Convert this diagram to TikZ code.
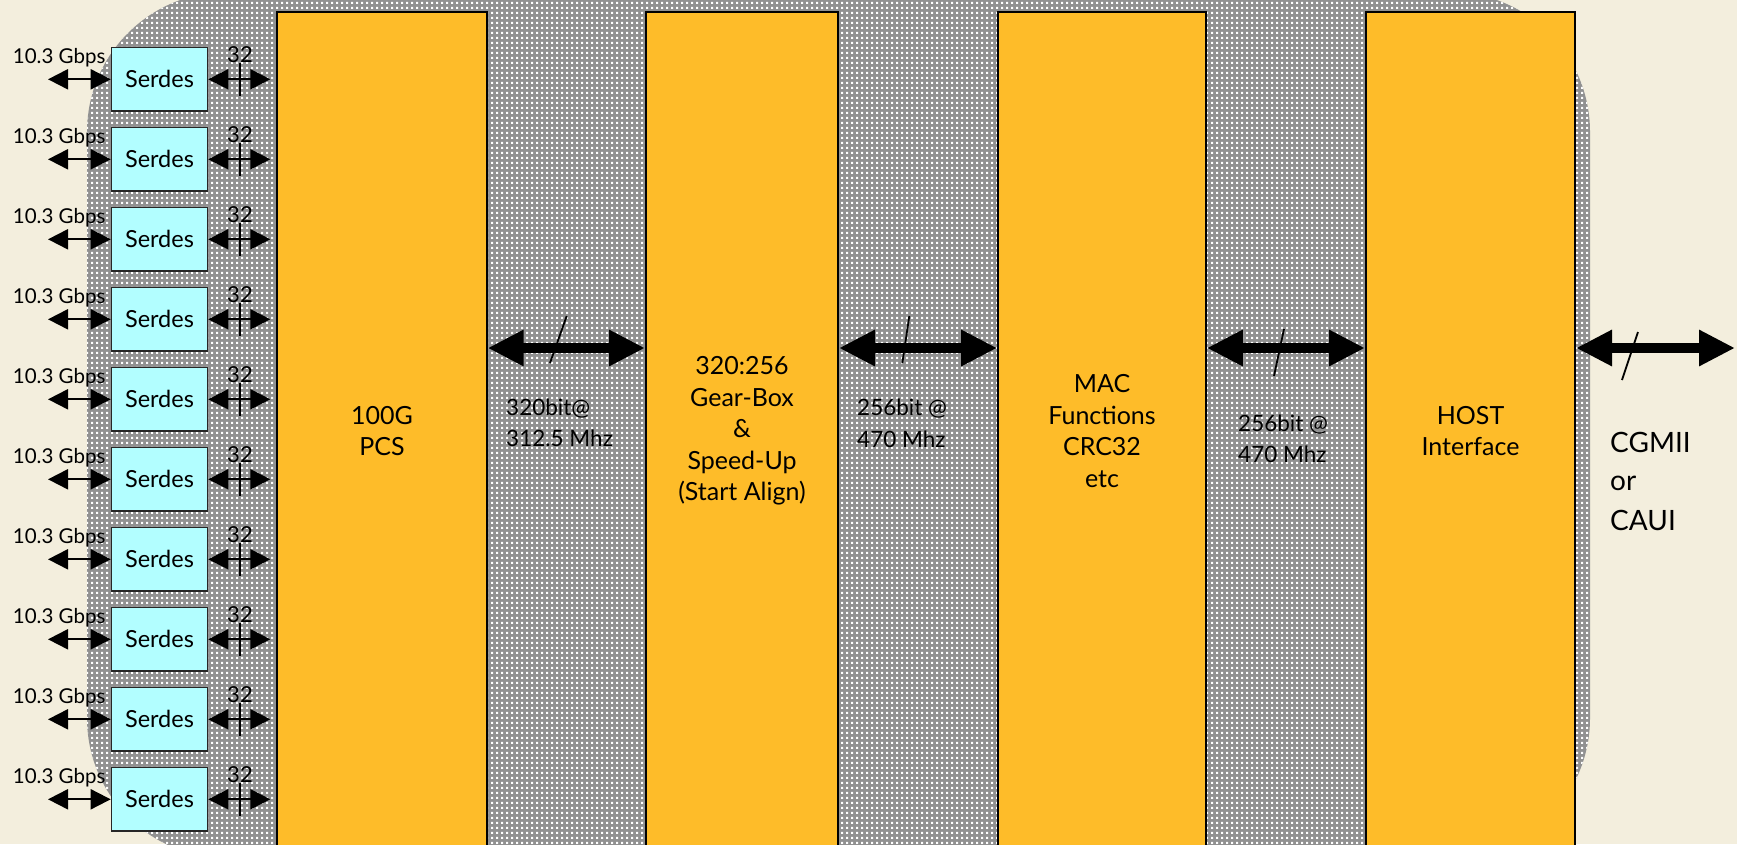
\documentclass[tikz,border=0pt]{standalone}
\usepackage{fontspec}
\setmainfont{Lato}
\usetikzlibrary{arrows.meta,patterns}
\pgfdeclarepatternformonly{gdots}{\pgfpointorigin}{\pgfqpoint{5pt}{5pt}}{\pgfqpoint{5pt}{5pt}}{\pgfpathrectangle{\pgfqpoint{1.3pt}{1.3pt}}{\pgfqpoint{2.5pt}{2.5pt}}\pgfusepath{fill}}
\definecolor{cream}{RGB}{243,238,221}
\definecolor{blockorange}{RGB}{254,188,41}
\definecolor{serdescyan}{RGB}{178,254,255}
\definecolor{dotgray}{RGB}{145,145,145}
\begin{document}
\begin{tikzpicture}[x=1pt,y=-1pt,
  block/.style={draw=black, line width=2pt, fill=blockorange, minimum height=838pt,
    inner sep=0pt, align=center, font=\fontsize{25}{31.5}\selectfont},
  serdes/.style={draw=black!85, line width=1.6pt, fill=serdescyan, minimum width=96pt,
    minimum height=63.5pt, inner sep=0pt, font=\fontsize{23.5}{27}\selectfont},
  gbps/.style={inner sep=0pt, font=\fontsize{20.5}{24}\selectfont},
  lab32/.style={inner sep=0pt, font=\fontsize{22}{24}\selectfont},
  lbl/.style={inner sep=0pt, font=\fontsize{22.5}{26}\selectfont},
  biglbl/.style={inner sep=0pt, font=\fontsize{28}{32}\selectfont},
  sarrow/.style={line width=2pt, {Triangle[length=20pt,width=20pt]}-{Triangle[length=20pt,width=20pt]}},
  barrow/.style={line width=10pt, {Triangle[length=36pt,width=34pt]}-{Triangle[length=36pt,width=34pt]}},
  slash/.style={line width=1.8pt},
  tick/.style={line width=1.5pt}]
\useasboundingbox (0,0) rectangle (1737,844);
\clip (0,0) rectangle (1737,844);
\fill[cream] (0,0) rectangle (1737,844);
% dotted rounded background
\fill[dotgray, rounded corners=140pt] (87,-8) rectangle (1590,858);
\fill[pattern=gdots, pattern color=white, rounded corners=140pt] (87,-8) rectangle (1590,858);

% big blocks
\node[block, minimum width=209.4pt] (PCS) at (382,431) {100G\\PCS};
\node[block, minimum width=192pt] (GB) at (742,431) {320:256\\Gear-Box\\\&\\Speed-Up\\(Start Align)};
\node[block, minimum width=207.7pt] (MAC) at (1102,431) {MAC\\Functions\\CRC32\\etc};
\node[block, minimum width=209pt] (HOST) at (1470.5,431) {HOST\\Interface};

\coordinate (pcsin) at ([xshift=-6pt]PCS.west);

% serdes rows
\foreach \i in {0,...,9}{
  \node[serdes] (s\i) at (159.5,{79.3+80*\i}) {Serdes};
  \node[gbps, anchor=base west] (g\i) at (12.7,{63+80*\i}) {10.3 Gbps};
  \coordinate (la\i) at (48,{79.3+80*\i});
  \draw[sarrow] (la\i) -- (s\i.west);
  \draw[sarrow] (s\i.east) -- (pcsin |- s\i.east);
  \draw[tick] (240,{63+80*\i}) -- (240,{95.5+80*\i});
  \node[lab32, anchor=base] (n\i) at (240,{62.7+80*\i}) {32};
}

% big arrows
\coordinate (cgend) at (1735,348);
\draw[barrow] ([yshift=83pt]PCS.east) -- ([yshift=83pt]GB.west);
\draw[barrow] ([yshift=83pt]GB.east) -- ([yshift=83pt]MAC.west);
\draw[barrow] ([yshift=83pt]MAC.east) -- ([yshift=83pt]HOST.west);
\draw[barrow] ([yshift=83pt]HOST.east) -- (cgend);

% slashes
\draw[slash] (566.7,316) -- (550,363);
\draw[slash] (909.3,316) -- (902.3,363.3);
\draw[slash] (1284,329) -- (1274,376);
\draw[slash] (1638,332) -- (1622,380);

% labels
\node[lbl, anchor=base west] (a1) at (506,415) {320bit@};
\node[lbl, anchor=base west] (a2) at (506,446) {312.5 Mhz};
\node[lbl, anchor=base west] (b1) at (857,415) {256bit @};
\node[lbl, anchor=base west] (b2) at (857,447) {470 Mhz};
\node[lbl, anchor=base west] (c1) at (1238,431) {256bit @};
\node[lbl, anchor=base west] (c2) at (1238,462) {470 Mhz};
\node[biglbl, anchor=base west] (d1) at (1610,452) {CGMII};
\node[biglbl, anchor=base west] (d2) at (1610,490) {or};
\node[biglbl, anchor=base west] (d3) at (1610,530) {CAUI};
\end{tikzpicture}
\end{document}
